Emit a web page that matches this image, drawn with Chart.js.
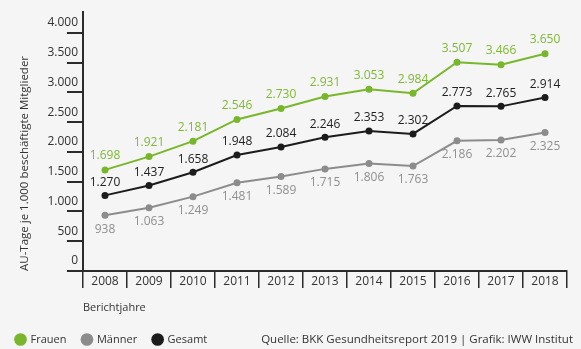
<!DOCTYPE html>
<html>
<head>
<meta charset="utf-8">
<script src="https://cdn.jsdelivr.net/npm/chart.js@4"></script>
<style>
  html, body { margin: 0; padding: 0; background: #f5f5f5; }
  #wrap { width: 581px; height: 349px; position: relative; }
</style>
</head>
<body>
<div id="wrap"><canvas id="lineChart"></canvas></div>
<script>
let years = ['2008', '2009', '2010', '2011', '2012', '2013', '2014', '2015', '2016', '2017', '2018'];
let frauen = [1698, 1921, 2181, 2546, 2730, 2931, 3053, 2984, 3507, 3466, 3650];
let maenner = [938, 1063, 1249, 1481, 1589, 1715, 1806, 1763, 2186, 2202, 2325];
let gesamt = [1270, 1437, 1658, 1948, 2084, 2246, 2353, 2302, 2773, 2765, 2914];
let yTicks = [0, 500, 1000, 1500, 2000, 2500, 3000, 3500, 4000];

const green = '#78b72b';
const grey = '#8c8c8c';
const black = '#1c1c1c';
const axisColor = '#2b2b2b';

Chart.defaults.font.family = "'Open Sans', sans-serif";

// 1698 -> "1.698"
function fmt(v) {
    if (v < 1000) return String(v);
    return Math.floor(v / 1000) + '.' + String(v % 1000).padStart(3, '0');
}

// value labels next to each point
const valueLabels = {
    id: 'valueLabels',
    afterDatasetsDraw(chart) {
        const ctx = chart.ctx;
        ctx.save();
        ctx.font = "12px 'Open Sans', sans-serif";
        ctx.textAlign = 'center';
        ctx.textBaseline = 'middle';
        chart.data.datasets.forEach((ds, i) => {
            const meta = chart.getDatasetMeta(i);
            ctx.fillStyle = ds.labelColor;
            meta.data.forEach((pt, j) => {
                ctx.fillText(fmt(ds.data[j]), pt.x, pt.y + ds.labelShift);
            });
        });
        ctx.restore();
    }
};

// source line, right side of the legend row
const sourceText = {
    id: 'sourceText',
    afterDraw(chart) {
        const box = chart.legend.legendHitBoxes[0];
        const ctx = chart.ctx;
        ctx.save();
        ctx.font = "11.5px 'Open Sans', sans-serif";
        ctx.fillStyle = '#333';
        ctx.textAlign = 'right';
        ctx.textBaseline = 'middle';
        ctx.fillText('Quelle: BKK Gesundheitsreport 2019 | Grafik: IWW Institut', 573, box.top + box.height / 2);
        ctx.restore();
    }
};

new Chart('lineChart', {
    type: 'line',
    data: {
        labels: years,
        datasets: [
            { label: 'Frauen', data: frauen, borderColor: green, backgroundColor: green, labelColor: '#7dba30', labelShift: -14 },
            { label: 'Männer', data: maenner, borderColor: grey, backgroundColor: grey, labelColor: '#8f8f8f', labelShift: 14 },
            { label: 'Gesamt', data: gesamt, borderColor: black, backgroundColor: black, labelColor: '#222', labelShift: -13 }
        ]
    },
    options: {
        responsive: true,
        maintainAspectRatio: false,
        animation: false,
        layout: { padding: { top: 12, right: 14, left: 0, bottom: -6 } },
        elements: {
            line: { borderWidth: 2, tension: 0 },
            point: { radius: 3.5, hoverRadius: 3.5, borderWidth: 0 }
        },
        plugins: {
            tooltip: { enabled: false },
            legend: {
                position: 'bottom',
                align: 'start',
                labels: {
                    usePointStyle: true,
                    pointStyle: 'circle',
                    boxWidth: 9,
                    boxHeight: 9,
                    padding: 16,
                    color: '#333',
                    font: { size: 11 }
                }
            }
        },
        scales: {
            x: {
                offset: true,
                grid: { drawOnChartArea: false, offset: true, tickLength: 17, color: axisColor, lineWidth: 1.5 },
                border: { color: axisColor, width: 2 },
                ticks: { color: '#333', font: { size: 12 }, padding: -14, maxRotation: 0 },
                title: { display: true, text: 'Berichtjahre', align: 'start', color: '#333', font: { size: 11 }, padding: { top: 0, bottom: 4 } },
                afterFit(scale) { scale.height = 47; }
            },
            y: {
                min: 0,
                max: 4350,
                afterBuildTicks(scale) { scale.ticks = yTicks.map(v => ({ value: v })); },
                grid: { drawOnChartArea: false, tickLength: 16, color: axisColor, lineWidth: 2 },
                border: { color: axisColor, width: 2 },
                ticks: { color: '#333', font: { size: 12 }, padding: -11, labelOffset: -10, callback: v => fmt(v) },
                title: { display: true, text: 'AU-Tage je 1.000 beschäftigte Mitglieder', align: 'start', color: '#333', font: { size: 11.5 }, padding: { top: 18, bottom: 0 } },
                afterFit(scale) { scale.width = 83; }
            }
        }
    },
    plugins: [valueLabels, sourceText]
});
</script>
</body>
</html>
